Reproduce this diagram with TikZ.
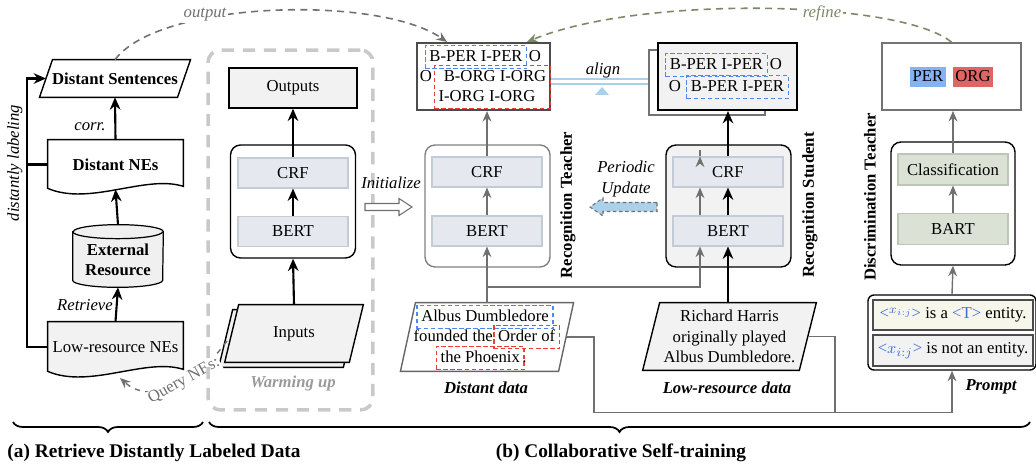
\documentclass[tikz,border=0pt]{standalone}
\usepackage{fontspec}
\setmainfont{Liberation Serif}
\usetikzlibrary{arrows.meta,fit,calc,decorations.pathreplacing}
\definecolor{lgray}{HTML}{F2F2F2}
\definecolor{blk}{HTML}{E5E9EF}
\definecolor{blkd}{HTML}{C3CBD6}
\definecolor{grn}{HTML}{DCE1D5}
\definecolor{grnd}{HTML}{BCC6B4}
\definecolor{arrg}{HTML}{707070}
\definecolor{dashb}{HTML}{4F86F0}
\definecolor{dashr}{HTML}{E8413C}
\definecolor{alb}{HTML}{AAD0EA}
\definecolor{olv}{HTML}{7A8A66}
\definecolor{xb}{HTML}{3F6FD6}
\definecolor{perc}{HTML}{85B2F3}
\definecolor{orgc}{HTML}{E06464}
\definecolor{beige}{HTML}{F7F6EA}
\definecolor{wgray}{HTML}{C9C9C9}
\definecolor{tgray}{HTML}{9A9A9A}
\newcommand\nf{\fontsize{9.5}{11.6}\selectfont}
\newcommand\paral[3][]{\draw[#1] ([xshift=#3]#2.north west) -- ([xshift=#3]#2.north east) -- ([xshift=-#3]#2.south east) -- ([xshift=-#3]#2.south west) -- cycle;}
\newcommand\docshape[2][]{\draw[#1] (#2.north west) -- (#2.north east) -- ($(#2.south east)+(0,-3)$) .. controls ($(#2.south east)+(-38,-15)$) and ($(#2.south west)+(42,17)$) .. ($(#2.south west)+(0,-1)$) -- cycle;}
\begin{document}
\begin{tikzpicture}[x=0.02cm, y=-0.02cm, font=\nf,
  txt/.style={inner sep=1pt, text height=6.7pt, text depth=1.9pt},
  it/.style={font=\nf\itshape},
  bi/.style={font=\nf\bfseries\itshape},
  bf/.style={font=\nf\bfseries},
  mbox/.style={draw, rounded corners=0.2cm, line width=0.8pt},
  inbox/.style={draw=blkd, fill=blk, line width=0.6pt, minimum width=2.2cm, minimum height=0.6cm},
  grbox/.style={draw=grnd, fill=grn, line width=0.6pt, minimum width=2.2cm, minimum height=0.62cm},
  barr/.style={line width=1.2pt, -{Stealth[length=7pt,width=6pt]}},
  garr/.style={line width=0.8pt, draw=arrg, -{Stealth[length=6pt,width=5pt]}},
  gline/.style={line width=0.8pt, draw=arrg},
  bdash/.style={draw=dashb, line width=0.7pt, inner sep=1.2pt, dash pattern=on 2.5pt off 1.5pt},
  rdash/.style={draw=dashr, line width=0.7pt, inner sep=1.2pt, dash pattern=on 2.5pt off 1.5pt},
  plain/.style={inner sep=0pt}]
\useasboundingbox (0,0) rectangle (1036,466);

% ---------------- (a) ----------------
\node[bf, minimum width=2.55cm, minimum height=0.74cm] (ds) at (115,78.5) {Distant Sentences};
\paral[line width=0.8pt]{ds}{0.13cm}
\node[bf, minimum width=2.7cm, minimum height=0.98cm] (dne) at (115.5,164.5) {Distant NEs};
\docshape[line width=0.8pt]{dne}
\node[bf, minimum width=1.8cm, minimum height=1.24cm, align=center] (ext) at (118,256) {};
\draw[fill=gray!12, line width=0.7pt] ($(ext.north west)+(0,7)$) -- ($(ext.south west)+(0,-7)$) arc[start angle=180, end angle=360, x radius=0.9cm, y radius=0.14cm] -- ($(ext.north east)+(0,7)$) arc[start angle=0, end angle=180, x radius=0.9cm, y radius=0.14cm] -- cycle;
\draw[line width=0.7pt] ($(ext.north west)+(0,7)$) arc[start angle=180, end angle=360, x radius=0.9cm, y radius=0.14cm];
\node[bf, align=center] at ($(ext.center)+(0,4)$) {External\\Resource};
\node[minimum width=2.7cm, minimum height=1.0cm] (lre) at (115.5,347) {};
\docshape[fill=lgray, line width=0.8pt]{lre}
\node at (lre.center) {Low-resource NEs};

\draw[barr] (lre.north) -- (ext.south);
\draw[barr] (ext.north) -- (dne.south);
\draw[barr] (dne.north) -- (ds.south);
\draw[barr] (lre.west) -- ++(-21,0) |- (ds.west);
\draw[line width=1.2pt] (dne.west) -- ++(-21,0);
\node[it] at (90,127) {corr.};
\node[it] at (85,305) {Retrieve};
\node[it, rotate=90] at (15,163) {distantly labeling};

% ---------------- warming up ----------------
\node[minimum width=2.48cm, minimum height=1.14cm] (winp) at (294,333.5) {};
\draw[fill=lgray, line width=0.8pt] ([xshift=0.02cm,yshift=-0.1cm]winp.north west) -- ([xshift=0.02cm,yshift=-0.1cm]winp.north east) -- ([xshift=-0.26cm,yshift=-0.1cm]winp.south east) -- ([xshift=-0.26cm,yshift=-0.1cm]winp.south west) -- cycle;
\paral[fill=lgray, line width=0.8pt]{winp}{0.14cm}
\node at (winp.center) {Inputs};

\draw[dashed, arrg, line width=0.8pt, -{Stealth[length=6pt,width=5pt]}] (227,341) .. controls (195,385) and (150,405) .. (120,378)
  node[pos=0.4, sloped, fill=white, inner sep=0.5pt, text=arrg] {Query NEs:};

\node[draw=wgray, line width=2pt, dash pattern=on 7pt off 5pt, rounded corners=0.25cm, minimum width=3.3cm, minimum height=7.2cm] (warm) at (290.5,230) {};
\node[bi, text=tgray] at (293,383) {Warming up};
\node[draw, fill=lgray, line width=0.8pt, minimum width=2.56cm, minimum height=0.8cm] (wout) at (293,88) {Outputs};
\node[mbox, minimum width=2.5cm, minimum height=2.26cm] (wmodel) at (293,201.5) {};
\node[inbox] (wcrf) at (293,173) {CRF};
\node[inbox] (wbert) at (293,231.5) {BERT};
\draw[barr] (winp.north) -- (wmodel.south);
\draw[barr] (wbert.north) -- (wcrf.south);
\draw[barr] (wcrf.north) -- (wout.south);

\node[it] at (391,183) {Initialize};
\draw[draw=arrg, fill=white, line width=0.6pt] (365,203.5) -- (399,203.5) -- (399,198.5) -- (412,207) -- (399,215.5) -- (399,210.5) -- (365,210.5) -- cycle;

% ---------------- recognition teacher ----------------
\node[draw=black!70, line width=1.2pt, fill=white, minimum width=2.66cm, minimum height=1.34cm] (tout) at (483.5,76.5) {};
\node[txt] (t1a) at (476,57) {B-PER I-PER};
\node[txt] (t1b) at (535,57) {O};
\node[txt] (t2a) at (426,77) {O};
\node[txt] (t2b) at (495,77) {B-ORG I-ORG};
\node[txt] (t3) at (487,97) {I-ORG I-ORG};
\node[bdash, fit=(t1a)] {};
\node[rdash, fit=(t2b)(t3)] {};

\node[mbox, draw=black!50, minimum width=2.5cm, minimum height=2.44cm] (tmodel) at (487.5,206) {};
\node[inbox] (tcrf) at (487,172) {CRF};
\node[inbox] (tbert) at (487,231) {BERT};
\node[bf, rotate=90] at (568,205) {Recognition Teacher};

\node[minimum width=3.15cm, minimum height=1.36cm] (ddata) at (487,337) {};
\paral[draw=black!60, line width=0.8pt]{ddata}{0.15cm}
\node[txt] (d1) at (485,317) {Albus Dumbledore};
\node[txt, anchor=east] (d2a) at (495,337) {founded the};
\node[txt, anchor=west] (d2b) at ([xshift=0.6pt]d2a.east) {Order of};
\node[txt, anchor=east] (d3a) at (522,358) {the Phoenix};
\node[txt, anchor=west, inner sep=0pt] (d3b) at (d3a.east) {.};
\node[bdash, fit=(d1)] {};
\node[rdash, fit=(d2b)] {};
\node[rdash, fit=(d3a)] {};
\node[bi] at (486,388) {Distant data};

\draw[garr] (ddata.north) -- (tbert.south);
\draw[garr] (tbert.north) -- (tcrf.south);
\draw[garr] (tcrf.north) -- (tcrf.north |- tout.south);

% ---------------- recognition student ----------------
\node[draw=black!55, fill=white, line width=0.8pt, minimum width=2.32cm, minimum height=1.3cm] (sback) at (707,82.5) {};
\node[draw, fill=lgray, line width=1.2pt, minimum width=2.78cm, minimum height=1.34cm] (sout) at (727.5,76.5) {};
\node[txt] (s1a) at (716.5,65) {B-PER I-PER};
\node[txt] (s1b) at (776,65) {O};
\node[txt] (s2a) at (675,87) {O};
\node[txt] (s2b) at (737.5,87) {B-PER I-PER};
\node[bdash, fit=(s1a)] {};
\node[bdash, fit=(s2b)] {};

\draw[alb, line width=1pt] ([yshift=-0.05cm]tout.east) -- ([yshift=-0.05cm]tout.east -| sback.west);
\draw[alb, line width=1pt] ([yshift=-0.15cm]tout.east) -- ([yshift=-0.15cm]tout.east -| sback.west);
\fill[alb] (602,87) -- (609,95) -- (595,95) -- cycle;
\node[it] at (603,70) {align};

\node[mbox, fill=lgray, minimum width=2.5cm, minimum height=2.44cm] (smodel) at (728.5,206) {};
\node[inbox] (scrf) at (728,172) {CRF};
\node[inbox] (sbert) at (728,231) {BERT};
\node[bf, rotate=90] at (810,205) {Recognition Student};

\node[it, align=center, font=\fontsize{9.5}{12.5}\selectfont\itshape] at (626,179) {Periodic\\Update};
\draw[draw=arrg, fill=alb, line width=0.6pt, dash pattern=on 2pt off 1.5pt] (657,202.5) -- (603,202.5) -- (603,198) -- (590,207) -- (603,216) -- (603,211.5) -- (657,211.5) -- cycle;

\node[minimum width=3.12cm, minimum height=1.34cm] (ldata) at (729.5,336.5) {};
\paral[fill=lgray, line width=0.8pt]{ldata}{0.17cm}
\node[align=center, font=\fontsize{9.5}{11.6}\selectfont] at (ldata.center) {Richard Harris\\originally played\\Albus Dumbledore.};
\node[bi] at (727,388) {Low-resource data};

\draw[garr] (ddata.north |- 0,287) -| ($(sbert.south)+(-28,0)$);
\draw[garr] ($(sbert.north)+(-28,0)$) -- ($(scrf.south)+(-28,0)$);
\draw[garr] ($(scrf.north)+(-28,0)$) -- ($(scrf.north)+(-28,0)$ |- sback.south);
\draw[barr] (ldata.north -| sbert.south) -- (sbert.south);
\draw[barr] (sbert.north) -- (scrf.south);
\draw[barr] (scrf.north) -- (scrf.north |- sout.south);

% ---------------- discrimination teacher ----------------
\node[draw=black!55, line width=1pt, minimum width=2.78cm, minimum height=1.34cm] (dout) at (951.5,76.5) {};
\node[txt, fill=perc, inner sep=1.5pt] (per) at (928,77) {PER};
\node[txt, fill=orgc, inner sep=1.5pt] (org) at (973,77) {ORG};
\node[mbox, minimum width=2.48cm, minimum height=2.46cm] (dmodel) at (953,203.5) {};
\node[grbox] (dcls) at (953,169.5) {Classification};
\node[grbox] (dbart) at (953,229) {BART};
\node[bf, rotate=90] at (870,197) {Discrimination Teacher};

\node[draw, rounded corners=0.12cm, line width=0.8pt, minimum width=3.36cm, minimum height=1.5cm] (prompt) at (952,332.5) {};
\node[draw=black!70, fill=beige, line width=0.7pt, minimum width=3.2cm, minimum height=0.6cm, inner sep=1pt] (p1) at (953,315) {{\color{xb}<\raisebox{2.8pt}{$\scriptstyle x_{i:j}$}>} is a {\color{xb}<T>} entity.};
\node[draw=black!70, fill=lgray, line width=0.7pt, minimum width=3.2cm, minimum height=0.62cm, inner sep=1pt] (p2) at (953,350.5) {{\color{xb}<$x_{i:j}$>} is not an entity.};
\node[bi] at (991,387) {Prompt};

\draw[garr] (prompt.north) -- (dmodel.south);
\draw[garr] (dbart.north) -- (dcls.south);
\draw[garr] (dcls.north) -- (dcls.north |- dout.south);

\draw[garr] (ddata.east) -- ++(28,0) |- ($(prompt.south)+(0,42)$) -- (prompt.south);
\draw[gline] (ldata.east) -- ++(27,0) -- ++(0,75.5);

% ---------------- top curves ----------------
\draw[dashed, arrg, line width=0.9pt, dash pattern=on 4pt off 3pt, -{Stealth[length=6pt,width=5pt]}] (ds.north) .. controls (160,0) and (380,-5) .. ([xshift=-0.73cm]tout.north);
\node[it, fill=white, inner sep=1pt, text=arrg] at (205,15) {output};
\draw[olv, line width=0.9pt, dash pattern=on 4pt off 3pt, -{Stealth[length=6pt,width=5pt]}] (dout.north) .. controls (900,0) and (640,-5) .. ([xshift=0.87cm]tout.north);
\node[it, fill=white, inner sep=1pt, text=olv] at (822,13) {refine};

% ---------------- braces ----------------
\draw[decorate, decoration={brace, mirror, amplitude=0.2cm}, line width=1pt] (13,422) -- (203,422);
\draw[decorate, decoration={brace, mirror, amplitude=0.2cm}, line width=1pt] (209,422) -- (1030,422);
\node[font=\fontsize{11}{13}\selectfont\bfseries] at (154,453) {(a) Retrieve Distantly Labeled Data};
\node[font=\fontsize{11}{13}\selectfont\bfseries] at (621,453) {(b) Collaborative Self-training};
\end{tikzpicture}
\end{document}
